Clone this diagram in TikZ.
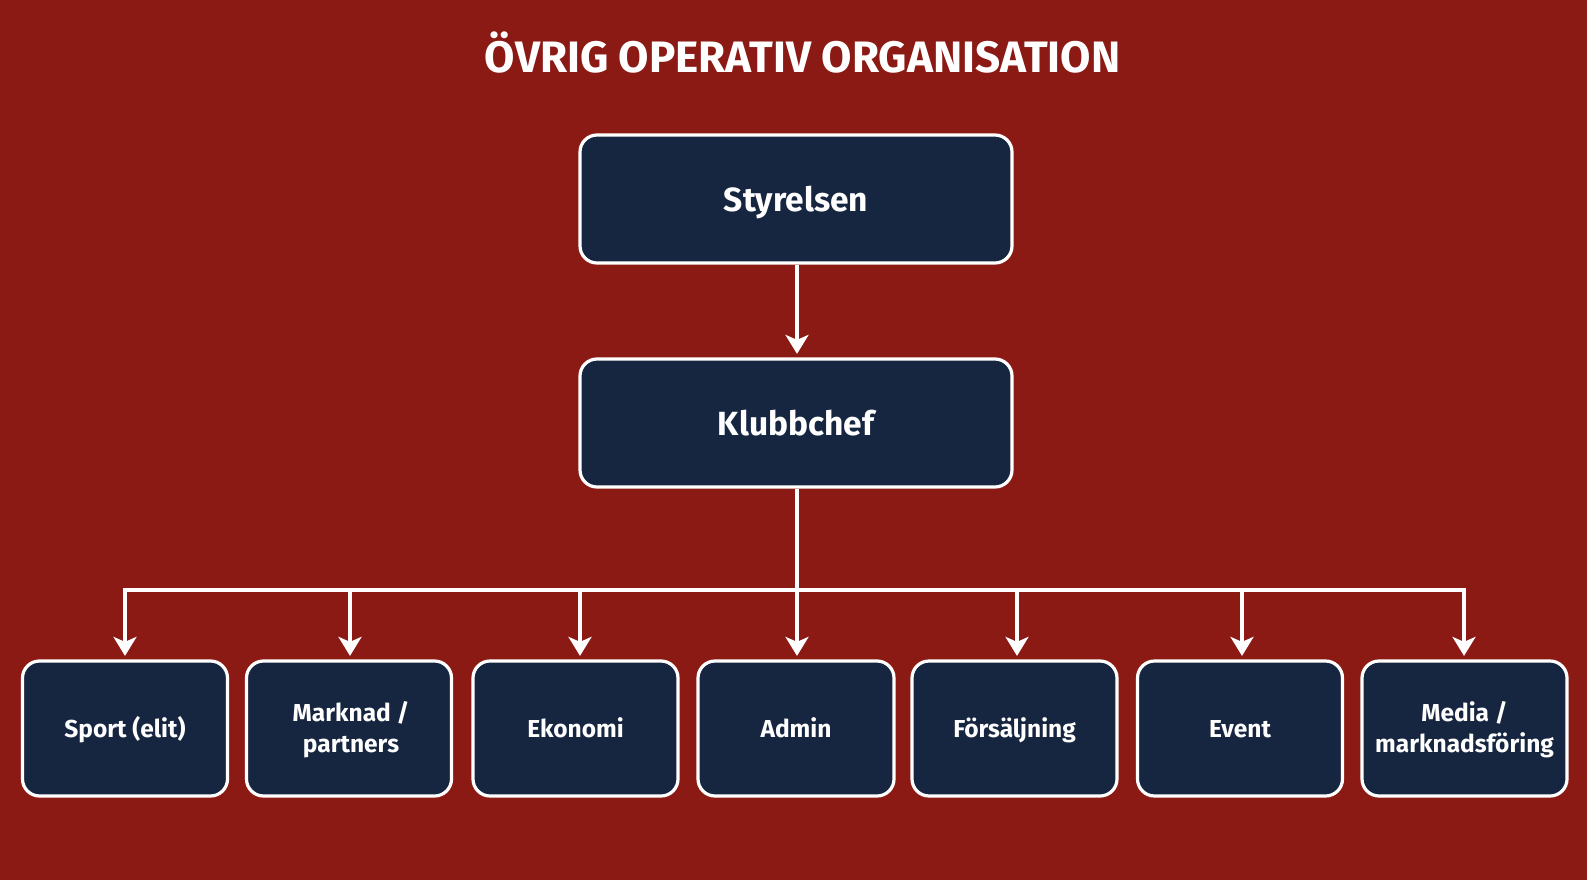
\documentclass[tikz,border=0pt]{standalone}
\usepackage{fontspec}
\setmainfont{Fira Sans}
\usetikzlibrary{arrows.meta}
\definecolor{bgred}{HTML}{8C1A14}
\definecolor{navy}{HTML}{172640}
\tikzset{
  box/.style={draw=white, line width=3.2pt, fill=navy, rounded corners=17pt, inner sep=0pt},
  bigbox/.style={box, minimum width=432pt, minimum height=128pt},
  smallbox/.style={box, minimum width=205pt, minimum height=135pt},
  bigtext/.style={text=white, font=\fontsize{33.5}{36}\selectfont\bfseries, inner sep=0pt},
  smalltext/.style={text=white, align=center, font=\fontsize{24.5}{31.5}\selectfont\bfseries, inner sep=0pt},
  conn/.style={draw=white, line width=3.4pt},
  arr/.style={conn, -{Stealth[length=19pt,width=23pt,inset=5pt]}, shorten >=3.5pt},
}
\begin{document}
\begin{tikzpicture}[x=1pt,y=-1pt]
\fill[bgred] (0,0) rectangle (1587,880);
\useasboundingbox (0,0) rectangle (1587,880);
\node[text=white, font=\fontsize{44}{48}\selectfont\bfseries, anchor=base, inner sep=0pt] (title) at (802.5,73) {ÖVRIG OPERATIV ORGANISATION};
\node[bigbox] (sty) at (796,199) {};
\node[bigtext, anchor=base] (styt) at (796,211.5) {Styrelsen};
\node[bigbox] (klu) at (796,423) {};
\node[bigtext, anchor=base] (klut) at (796,435.5) {Klubbchef};
\node[smallbox] (n1) at (125,728.5) {};
\node[smallbox] (n2) at (349,728.5) {};
\node[smallbox] (n3) at (575.5,728.5) {};
\node[smallbox, minimum width=196pt] (n4) at (796,728.5) {};
\node[smallbox] (n5) at (1014.5,728.5) {};
\node[smallbox] (n6) at (1240,728.5) {};
\node[smallbox] (n7) at (1464.5,728.5) {};
\node[smalltext, anchor=base] (n1t) at (125,737) {Sport (elit)};
\node[smalltext, anchor=base] (n3t) at (575.5,737) {Ekonomi};
\node[smalltext, anchor=base] (n4t) at (796,737) {Admin};
\node[smalltext, anchor=base] (n5t) at (1014.5,737) {Försäljning};
\node[smalltext, anchor=base] (n6t) at (1240,737) {Event};
\node[smalltext, anchor=base] (n2ta) at (351,721) {Marknad /};
\node[smalltext, anchor=base] (n2tb) at (351,752.5) {partners};
\node[smalltext, anchor=base] (n7ta) at (1464.5,721) {Media /};
\node[smalltext, anchor=base] (n7tb) at (1464.5,752.5) {marknadsföring};
\coordinate (bus) at (797,590);
\draw[arr] (sty.south -| bus) -- (klu.north -| bus);
\draw[conn] (klu.south -| bus) -- (bus);
\draw[conn, line cap=rect] (125,590) coordinate (bl) -- (1464,590) coordinate (br);
\foreach \n/\x in {n1/125,n2/350,n3/580,n4/797,n5/1017,n6/1242,n7/1464}{
  \coordinate (t\n) at (\x,590);
  \draw[arr] (t\n) -- (t\n |- \n.north);
}
\end{tikzpicture}
\end{document}
